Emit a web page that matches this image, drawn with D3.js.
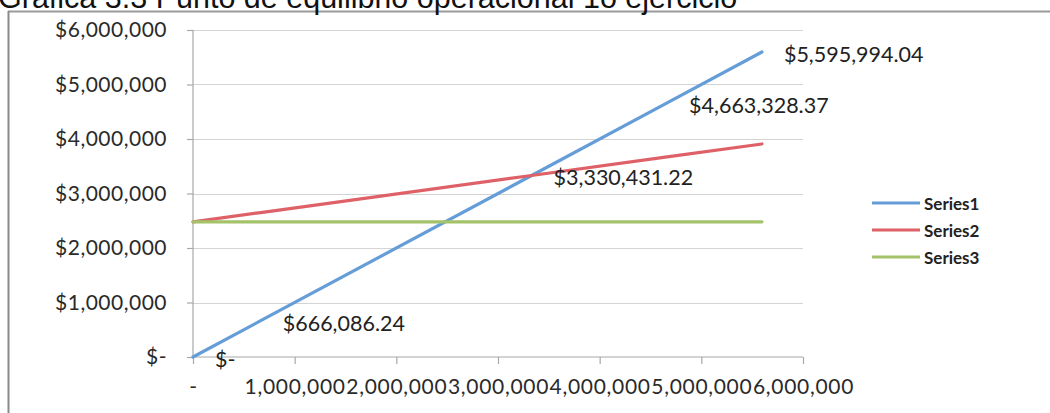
<!DOCTYPE html>
<html>
<head>
<meta charset="utf-8">
<script src="https://cdn.jsdelivr.net/npm/d3@7"></script>
<style>
  html, body { margin: 0; padding: 0; background: #fff; }
  svg { display: block; }
</style>
</head>
<body>
<svg id="chart" width="1050" height="413"></svg>
<script>
// Break-even chart: sales, total costs and fixed costs against volume
const titleText = "Gráfica 3.3 Punto de equilibrio operacional  1o  ejercicio";
const seriesNames = ["Series1", "Series2", "Series3"];
const xValues = [0, 666086.24, 3330431.22, 4663328.37, 5595994.04];
const series1 = [0, 666086.24, 3330431.22, 4663328.37, 5595994.04];
const series2 = [2480000, 2650086, 3330431.22, 3670783, 3908940];
const series3 = [2480000, 2480000, 2480000, 2480000, 2480000];
const xTicks = [0, 1000000, 2000000, 3000000, 4000000, 5000000, 6000000];
const yTicks = [0, 1000000, 2000000, 3000000, 4000000, 5000000, 6000000];
const colors = ["#659dd8", "#de6168", "#a3c269"];

const svg = d3.select("#chart");
const font = "Lato, 'Open Sans', sans-serif";

// frame of the chart object
svg.append("line").attr("x1", 8).attr("x2", 1050).attr("y1", 11.5).attr("y2", 11.5)
  .attr("stroke", "#9a9a9a").attr("stroke-width", 2);
svg.append("line").attr("x1", 8.5).attr("x2", 8.5).attr("y1", 11).attr("y2", 413)
  .attr("stroke", "#8a8a8a").attr("stroke-width", 2);

// title (sits above the frame, partly outside the page top)
svg.append("text").attr("x", -2).attr("y", 8)
  .attr("font-family", "'Liberation Sans', Arial, sans-serif")
  .attr("font-size", 30.5).attr("fill", "#111")
  .text(titleText);

const x = d3.scaleLinear().domain([0, 6000000]).range([193, 803]);
const y = d3.scaleLinear().domain([0, 6000000]).range([357, 30]);

// gridlines
svg.append("g").selectAll("line").data(yTicks.filter(d => d > 0)).join("line")
  .attr("x1", x(0)).attr("x2", x(6000000))
  .attr("y1", d => Math.round(y(d)) + 0.5).attr("y2", d => Math.round(y(d)) + 0.5)
  .attr("stroke", "#d4d4d4").attr("stroke-width", 1.2);

// axes
const yAxis = d3.axisLeft(y).tickValues(yTicks).tickSize(6).tickPadding(20)
  .tickFormat(d => d === 0 ? "$-" : d3.format("$,")(d));
const xAxis = d3.axisBottom(x).tickValues(xTicks).tickSize(7).tickPadding(15)
  .tickFormat(d => d === 0 ? "-" : d3.format(",")(d));

const gy = svg.append("g").attr("transform", `translate(${x(0)},0)`).call(yAxis);
const gx = svg.append("g").attr("transform", `translate(0,${y(0)})`).call(xAxis);
[gx, gy].forEach(g => {
  g.select(".domain").attr("stroke", "#a8a8a8").attr("stroke-width", 1.2);
  g.selectAll(".tick line").attr("stroke", "#a8a8a8").attr("stroke-width", 1.2);
  g.selectAll(".tick text").attr("font-family", font).attr("font-size", 21).attr("fill", "#2a2a2a");
});
gy.selectAll(".tick text").attr("letter-spacing", 0.5);
gx.selectAll(".tick text").attr("letter-spacing", 0.7);
gy.select(".domain").attr("d", `M0,${y(6000000)}V${y(0)}`);
gx.select(".domain").attr("d", `M${x(0)},0H${x(6000000)}`);

// series lines
const line = d3.line().x(d => x(d[0])).y(d => y(d[1]));
[series1, series2, series3].forEach((vals, i) => {
  svg.append("path")
    .datum(xValues.map((xv, j) => [xv, vals[j]]))
    .attr("d", line).attr("fill", "none")
    .attr("stroke", colors[i]).attr("stroke-width", 3.2)
    .attr("stroke-linecap", "round");
});

// data labels for Series1
const fmtLabel = v => v === 0 ? "$-" : "$" + d3.format(",.2f")(v);
svg.append("g").selectAll("text").data(xValues.map((xv, j) => [xv, series1[j]])).join("text")
  .attr("x", d => x(d[0]) + 22).attr("y", d => y(d[1]) + 2)
  .attr("dominant-baseline", "central")
  .attr("font-family", font).attr("font-size", 21.5).attr("fill", "#222")
  .text(d => fmtLabel(d[1]));

// legend
const legend = svg.append("g");
seriesNames.forEach((name, i) => {
  const ly = 203 + i * 27;
  legend.append("line").attr("x1", 872).attr("x2", 920).attr("y1", ly).attr("y2", ly)
    .attr("stroke", colors[i]).attr("stroke-width", 3.2);
  legend.append("text").attr("x", 924).attr("y", ly).attr("dominant-baseline", "central")
    .attr("font-family", font).attr("font-weight", 700).attr("font-size", 17)
    .attr("fill", "#222").text(name);
});
</script>
</body>
</html>
